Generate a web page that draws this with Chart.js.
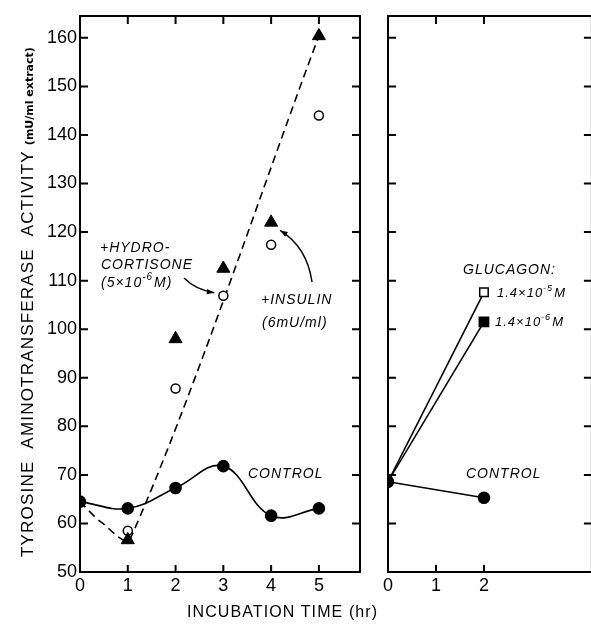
<!DOCTYPE html>
<html lang="en">
<head>
  <meta charset="UTF-8" />
  <title>Tyrosine aminotransferase activity</title>
  <script src="https://cdn.jsdelivr.net/npm/chart.js"></script>
  <style>
    html, body { margin: 0; padding: 0; background: #fff; }
    body { width: 591px; height: 624px; overflow: hidden; position: relative; }
    canvas { position: absolute; top: 0; }
    #left { left: 0; }
    #right { left: 372px; }
    #xTitle {
      position: absolute; left: 187px; top: 603px;
      font: 16px "Liberation Sans", Arial, sans-serif; letter-spacing: 1.1px;
      color: #000; white-space: nowrap;
    }
  </style>
</head>
<body>
  <canvas id="left" width="372" height="624"></canvas>
  <canvas id="right" width="228" height="624"></canvas>
  <div id="xTitle">INCUBATION TIME (hr)</div>

  <script>
    // values
    const leftHours = [0, 1, 2, 3, 4, 5];
    const controlLeft = [64.5, 63.1, 67.3, 71.8, 61.6, 63.1];
    const hydrocortisone = [null, 58.5, 87.8, 106.9, 117.4, 144.0];
    const insulin = [null, 56.6, 98.0, 112.5, 122.0, 160.4];
    // hand-drawn dashed trend line through the treated points
    const trendHours = [0, 0.45, 1.05, 5];
    const trendValues = [64.5, 60.2, 56.8, 160.4];

    const rightHours = [0, 2];
    const controlRight = [68.6, 65.3];
    const glucagonHigh = [68.6, 107.6]; // 1.4x10-5 M
    const glucagonLow = [68.6, 101.5];  // 1.4x10-6 M

    const yTickValues = [50, 60, 70, 80, 90, 100, 110, 120, 130, 140, 150, 160];
    const leftXLabels = [0, 1, 2, 3, 4, 5];
    const rightXLabels = [0, 1, 2];

    const pts = (xs, ys) => xs.map((x, i) => ({ x: x, y: ys[i] }));

    Chart.defaults.font.family = '"Liberation Sans", Arial, sans-serif';
    Chart.defaults.color = '#000';

    function frame(xTicks) {
      return {
        id: 'frame',
        afterDraw(chart) {
          const { ctx, chartArea: a, scales: { x, y } } = chart;
          ctx.save();
          ctx.strokeStyle = '#000';
          ctx.lineWidth = 2;
          ctx.beginPath();
          ctx.moveTo(a.left, a.top); ctx.lineTo(a.right, a.top);
          ctx.lineTo(a.right, a.bottom); ctx.lineTo(a.left, a.bottom);
          ctx.closePath();
          yTickValues.slice(1).forEach(v => {
            const py = y.getPixelForValue(v);
            ctx.moveTo(a.left, py); ctx.lineTo(a.left + 8, py);
            ctx.moveTo(a.right - 8, py); ctx.lineTo(a.right, py);
          });
          xTicks.slice(1).forEach(v => {
            const px = x.getPixelForValue(v);
            ctx.moveTo(px, a.top); ctx.lineTo(px, a.top + 8);
            ctx.moveTo(px, a.bottom - 7); ctx.lineTo(px, a.bottom);
          });
          ctx.stroke();
          ctx.restore();
        }
      };
    }

    function rich(ctx, parts, x, y, size) {
      ctx.textBaseline = 'middle';
      ctx.textAlign = 'left';
      parts.forEach(([t, sup]) => {
        ctx.font = 'italic ' + (sup ? Math.round(size * 0.72) : size) + 'px "Liberation Sans", Arial, sans-serif';
        ctx.fillText(t, x, sup ? y - size * 0.38 : y);
        x += ctx.measureText(t).width + (sup ? 1 : 0);
      });
    }

    function arrow(ctx, x0, y0, cx, cy, x1, y1) {
      ctx.beginPath();
      ctx.moveTo(x0, y0);
      ctx.quadraticCurveTo(cx, cy, x1, y1);
      ctx.lineWidth = 1.5;
      ctx.stroke();
      const ang = Math.atan2(y1 - cy, x1 - cx);
      ctx.beginPath();
      ctx.moveTo(x1, y1);
      ctx.lineTo(x1 - 8 * Math.cos(ang - 0.35), y1 - 8 * Math.sin(ang - 0.35));
      ctx.lineTo(x1 - 8 * Math.cos(ang + 0.35), y1 - 8 * Math.sin(ang + 0.35));
      ctx.closePath();
      ctx.fill();
    }

    const leftNotes = {
      id: 'leftNotes',
      afterDraw(chart) {
        const { ctx, scales: { x, y } } = chart;
        ctx.save();
        ctx.fillStyle = '#000';
        ctx.strokeStyle = '#000';
        ctx.letterSpacing = '1px';
        rich(ctx, [['+HYDRO-']], 100, 248, 14);
        rich(ctx, [['CORTISONE']], 101, 265, 14);
        rich(ctx, [['(5\u00d710'], ['-6', true], ['M)']], 101, 283, 14);
        rich(ctx, [['+INSULIN']], 261, 300, 14);
        rich(ctx, [['(6mU/ml)']], 262, 323, 14);
        rich(ctx, [['CONTROL']], 248, 474, 14);
        ctx.letterSpacing = '0px';
        const hx = x.getPixelForValue(3), hy = y.getPixelForValue(hydrocortisone[3]);
        arrow(ctx, 184, 278, 196, 290, hx - 9, hy - 3);
        const ix = x.getPixelForValue(4), iy = y.getPixelForValue(insulin[4]);
        arrow(ctx, 312, 282, 307, 247, ix + 9, iy + 8);
        // y-axis title
        ctx.translate(33, 557);
        ctx.rotate(-Math.PI / 2);
        ctx.textBaseline = 'alphabetic';
        ctx.textAlign = 'left';
        ctx.font = '17px "Liberation Sans", Arial, sans-serif';
        ctx.letterSpacing = '1.2px';
        const up = 'TYROSINE  AMINOTRANSFERASE  ACTIVITY';
        ctx.fillText(up, 0, 0);
        const w = ctx.measureText(up).width;
        ctx.font = 'bold 11px "DejaVu Sans", sans-serif';
        ctx.letterSpacing = '0px';
        ctx.fillText('(mU/ml extract)', w + 5, 0);
        ctx.restore();
      }
    };

    const rightNotes = {
      id: 'rightNotes',
      afterDraw(chart) {
        const ctx = chart.ctx;
        ctx.save();
        ctx.fillStyle = '#000';
        ctx.letterSpacing = '1px';
        rich(ctx, [['GLUCAGON:']], 91, 270, 14);
        rich(ctx, [['1.4\u00d710'], ['-5', true], ['M']], 125, 293, 13);
        rich(ctx, [['1.4\u00d710'], ['-6', true], ['M']], 123, 322, 13);
        rich(ctx, [['CONTROL']], 94, 474, 14);
        ctx.restore();
      }
    };

    function xScale(max, labels) {
      return {
        type: 'linear', min: 0, max: max,
        grid: { display: false, drawTicks: false, tickLength: 0 },
        border: { display: false },
        ticks: {
          padding: 3, maxRotation: 0, autoSkip: false,
          font: { size: 18 },
          callback: v => String(v)
        },
        afterBuildTicks: s => { s.ticks = labels.map(v => ({ value: v })); },
        afterFit: s => { s.height = 52; }
      };
    }

    function yScale(showLabels, width) {
      return {
        min: 50, max: 164.5,
        grid: { display: false, drawTicks: false, tickLength: 0 },
        border: { display: false },
        ticks: {
          display: showLabels, padding: 3, autoSkip: false,
          font: { size: 18 },
          callback: v => String(v)
        },
        afterBuildTicks: s => { s.ticks = yTickValues.map(v => ({ value: v })); },
        afterFit: s => { s.width = width; }
      };
    }

    const common = {
      responsive: false,
      animation: false,
      devicePixelRatio: 1,
      plugins: { legend: { display: false }, tooltip: { enabled: false } }
    };

    new Chart(document.getElementById('left'), {
      type: 'line',
      data: {
        datasets: [
          {
            data: pts(leftHours, insulin), showLine: false, order: 0,
            pointStyle: 'triangle', pointRadius: 7.5,
            pointBackgroundColor: '#000', pointBorderColor: '#000', pointBorderWidth: 1
          },
          {
            data: pts(leftHours, hydrocortisone), showLine: false, order: 1,
            pointStyle: 'circle', pointRadius: 4.5,
            pointBackgroundColor: '#fff', pointBorderColor: '#000', pointBorderWidth: 1.5
          },
          {
            data: pts(leftHours, controlLeft), order: 2,
            borderColor: '#000', borderWidth: 1.6, tension: 0.4,
            pointRadius: 5.5, pointBackgroundColor: '#000', pointBorderColor: '#000'
          },
          {
            data: pts(trendHours, trendValues), order: 3,
            borderColor: '#000', borderWidth: 1.6, borderDash: [8, 5], tension: 0.3,
            pointRadius: 0
          }
        ]
      },
      options: Object.assign({}, common, {
        layout: { padding: { top: 16, right: 12, left: 0, bottom: 0 } },
        scales: { x: xScale(5.86, leftXLabels), y: yScale(true, 80) }
      }),
      plugins: [frame(leftXLabels), leftNotes]
    });

    new Chart(document.getElementById('right'), {
      type: 'line',
      data: {
        datasets: [
          {
            data: pts(rightHours, glucagonLow), order: 0,
            borderColor: '#000', borderWidth: 1.6, tension: 0,
            pointStyle: 'rect', pointRadius: [0, 6.5],
            pointBackgroundColor: '#000', pointBorderColor: '#000'
          },
          {
            data: pts(rightHours, glucagonHigh), order: 1,
            borderColor: '#000', borderWidth: 1.6, tension: 0,
            pointStyle: 'rect', pointRadius: [0, 6],
            pointBackgroundColor: '#fff', pointBorderColor: '#000', pointBorderWidth: 1.5
          },
          {
            data: pts(rightHours, controlRight), order: 2,
            borderColor: '#000', borderWidth: 1.6, tension: 0,
            pointRadius: 5.5, pointBackgroundColor: '#000', pointBorderColor: '#000'
          }
        ]
      },
      options: Object.assign({}, common, {
        layout: { padding: { top: 16, right: 8, left: 0, bottom: 0 } },
        scales: { x: xScale(4.25, rightXLabels), y: yScale(false, 16) }
      }),
      plugins: [frame(rightXLabels), rightNotes]
    });
  </script>
</body>
</html>
